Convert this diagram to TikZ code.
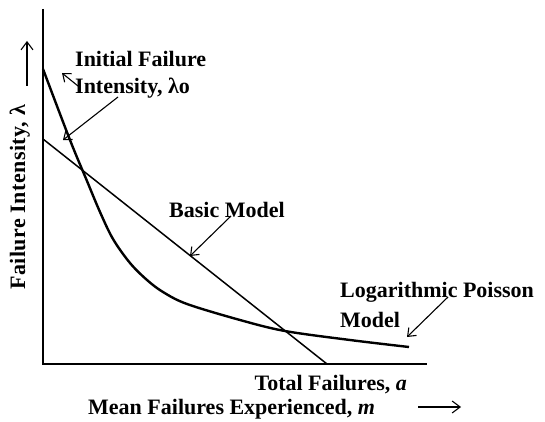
\documentclass[tikz,border=0pt]{standalone}
\usepackage{fontspec}
\setmainfont{Liberation Serif}
\usetikzlibrary{arrows.meta}
\begin{document}
\begin{tikzpicture}[x=1pt,y=-1pt,
  lbl/.style={font=\fontsize{22}{26}\selectfont\bfseries, inner sep=0pt},
  axis/.style={line width=2.6pt},
  basicline/.style={line width=1.5pt},
  logcurve/.style={line width=2.4pt},
  pointer/.style={line width=1.1pt, -{Straight Barb[length=7pt,width=11pt,line width=1.1pt]}},
  dirarrow/.style={line width=1.1pt, -{Straight Barb[length=8pt,width=12pt,line width=1.1pt]}}]
\useasboundingbox (0,0) rectangle (545,422);

% axes
\coordinate (origin) at (43,364);
\coordinate (ytop) at (43,9);
\coordinate (xend) at (427,364);
\draw[axis] (ytop) -- (origin) -- (xend);

% basic model: straight line
\coordinate (b0) at (43,139);
\coordinate (b1) at (327,364);
\draw[basicline] (b0) -- (b1);

% logarithmic Poisson model curve
\draw[logcurve] plot[smooth, tension=0.55] coordinates
  {(43,69) (70,140) (87,181) (100,212) (113,239) (130,263) (147,280)
   (163,292) (187,304) (240,320) (285,331) (350,340) (409,347)};

% labels
\node[lbl, anchor=base west] (init1) at (75,67) {Initial Failure};
\node[lbl, anchor=base west] (init2) at (75,94) {Intensity, λo};
\node[lbl, anchor=base west] (basic) at (169,217) {Basic Model};
\node[lbl, anchor=base west] (log1) at (340,297) {Logarithmic Poisson};
\node[lbl, anchor=base west] (log2) at (340,327) {Model};
\node[lbl, anchor=base east] (total) at (407,390) {Total Failures, \textit{a}};
\node[lbl, anchor=base west] (mean) at (88,414) {Mean Failures Experienced, \textit{m}};
\node[lbl, anchor=base west, rotate=90] (ylab) at (25,290)
  {\addfontfeature{LetterSpace=2}Failure Intensity, λ};

% pointers from the labels
\coordinate (p1s) at (78,86);
\coordinate (p1e) at (62,73);
\coordinate (p2s) at (118,97);
\coordinate (p2e) at (63,140);
\coordinate (p3s) at (231,216);
\coordinate (p3e) at (190,256);
\coordinate (p4s) at (448,297);
\coordinate (p4e) at (407,337);
\draw[pointer] (p1s) -- (p1e);
\draw[pointer] (p2s) -- (p2e);
\draw[pointer] (p3s) -- (p3e);
\draw[pointer] (p4s) -- (p4e);

% direction arrows of the axes
\coordinate (ya0) at (27,86);
\coordinate (ya1) at (27,41);
\coordinate (xa0) at (418,407);
\coordinate (xa1) at (461,407);
\draw[dirarrow] (ya0) -- (ya1);
\draw[dirarrow] (xa0) -- (xa1);
\end{tikzpicture}
\end{document}
